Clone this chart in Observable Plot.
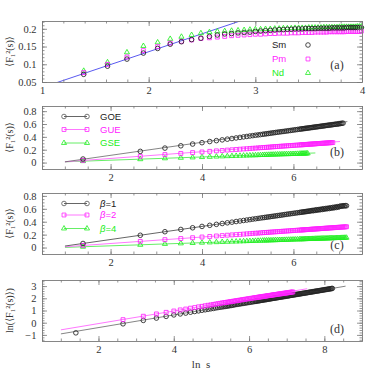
<!DOCTYPE html>
<html><head><meta charset="utf-8">
<script src="https://cdn.jsdelivr.net/npm/d3@7"></script>
<script src="https://cdn.jsdelivr.net/npm/@observablehq/plot@0.6"></script>
<style>
body{margin:0;background:#fff;}
#c{position:relative;width:382px;height:382px;overflow:hidden;background:#fff;}
#c svg{position:absolute;left:0;overflow:visible;}
#c svg text{font-family:'Liberation Serif','DejaVu Serif',serif;}
</style></head><body><div id="c"></div>
<script>
// ---------- panel (a): Sm, Pm, Nd versus ln s ----------
const sA = [4,5,6,7,8,9,10,11,12,13,14,15,16,17,18,19,20,21,22,23,24,25,26,27,28,29,30,31,32,33,34,35,36,37,38,39,40,41,42,43,44,45,46,47,48,49,50,51,52,53,54];
const smA = [0.073,0.096,0.116,0.133,0.146,0.158,0.165,0.171,0.175,0.180,0.184,0.187,0.188,0.190,0.191,0.192,0.194,0.195,0.196,0.197,0.198,0.199,0.199,0.200,0.200,0.201,0.201,0.201,0.202,0.202,0.202,0.202,0.203,0.203,0.203,0.203,0.203,0.204,0.204,0.204,0.204,0.204,0.204,0.205,0.205,0.205,0.205,0.205,0.205,0.205,0.205];
const pmA = [0.078,0.101,0.122,0.140,0.151,0.161,0.166,0.170,0.174,0.176,0.178,0.180,0.182,0.183,0.184,0.185,0.186,0.186,0.187,0.188,0.188,0.189,0.189,0.189,0.190,0.190,0.190,0.191,0.191,0.191,0.191,0.192,0.192,0.192,0.192,0.192,0.193,0.193,0.193,0.193,0.193,0.193,0.193,0.194,0.194,0.194,0.194,0.194,0.194,0.194,0.195];
const ndA = [0.083,0.107,0.135,0.153,0.163,0.173,0.179,0.184,0.189,0.192,0.194,0.195,0.196,0.197,0.198,0.199,0.200,0.200,0.201,0.201,0.202,0.202,0.203,0.203,0.203,0.204,0.204,0.204,0.204,0.205,0.205,0.205,0.205,0.205,0.206,0.206,0.206,0.206,0.206,0.206,0.207,0.207,0.207,0.207,0.207,0.207,0.207,0.207,0.208,0.208,0.208];
const fitAx = [1.10, 2.90];
const fitAy = [0.0463, 0.2282];

// ---------- panels (b)-(d): ln s grid ----------
const lnS = [1.386,2.639,3.178,3.526,3.784,3.989,4.159,4.304,4.431,4.543,4.644,4.736,4.820,4.898,4.970,5.037,5.100,5.159,5.215,5.268,5.318,
5.36,5.40,5.44,5.48,5.52,5.56,5.60,5.64,5.68,5.72,5.76,5.80,5.84,5.88,5.92,5.96,6.00,6.04,6.08,6.12,
6.150,6.175,6.200,6.225,6.250,6.275,6.300,6.325,6.350,6.375,6.400,6.425,6.450,6.475,6.500,6.525,6.550,6.575,6.600,6.625,6.650,6.675,6.700,6.725,6.750,6.775,6.800,6.825,6.850,6.875,6.900,6.925,6.950,6.975,7.000,7.025,7.050,7.075,7.100,7.125,7.150,7.175,7.200,7.225,7.250,7.275,7.300,7.325,7.350,7.375,7.400,7.425,7.450,7.475,7.500,7.525,7.550,7.575,7.600,7.625,7.650,7.675,7.700,7.725,7.750,7.775,7.800,7.825,7.850,7.875,7.900,7.925,7.950,7.975,8.000,8.025,8.050,8.075,8.100,8.125,8.150,8.175,8.200];

// (b) GOE, GUE, GSE
const bGOE = [0.063,0.182,0.233,0.269,0.296,0.317,0.335,0.349,0.361,0.372,0.382,0.391,0.399,0.407,0.414,0.421,0.427,0.433,0.438,0.443,0.448,
0.452,0.456,0.460,0.464,0.468,0.472,0.476,0.480,0.484,0.488,0.491,0.495,0.499,0.503,0.507,0.511,0.515,0.519,0.523,0.527,
0.530,0.532,0.535,0.537,0.540,0.542,0.544,0.547,0.549,0.552,0.554,0.557,0.559,0.562,0.564,0.566,0.569,0.571,0.574,0.576,0.579,0.581,0.584,0.586,0.589,0.591,0.593,0.596,0.598,0.601,0.603,0.607,0.605,0.612,0.613,0.616,0.619,0.621];
const bGUE = [0.041,0.105,0.132,0.150,0.163,0.173,0.182,0.190,0.196,0.202,0.207,0.212,0.216,0.220,0.223,0.227,0.230,0.233,0.236,0.239,0.241,
0.243,0.245,0.247,0.249,0.252,0.254,0.256,0.258,0.260,0.262,0.264,0.266,0.268,0.270,0.272,0.274,0.276,0.278,0.280,0.282,
0.284,0.285,0.286,0.287,0.289,0.290,0.291,0.293,0.294,0.295,0.296,0.298,0.299,0.300,0.302,0.303,0.304,0.305,0.307,0.308,0.309,0.310,0.312,0.313,0.314,0.316,0.317,0.318,0.319];
const bGSE = [0.030,0.060,0.074,0.082,0.088,0.093,0.097,0.101,0.104,0.107,0.109,0.112,0.114,0.116,0.117,0.119,0.120,0.122,0.123,0.125,0.126,
0.127,0.128,0.129,0.130,0.131,0.132,0.133,0.134,0.135,0.136,0.137,0.138,0.139,0.139,0.140,0.141,0.142,0.143,0.144,0.145,
0.146,0.147,0.147,0.148,0.148,0.149,0.150];
const fitBx = {GOE:[1, 7.16], GUE:[1, 7.0], GSE:[1, 6.46]};
const fitBy = {GOE:[0.02, 0.645], GUE:[0.02, 0.335], GSE:[0.02, 0.157]};

// (c) beta = 1, 2, 4
const cB1 = [0.071,0.198,0.253,0.288,0.314,0.335,0.352,0.367,0.380,0.391,0.401,0.411,0.419,0.427,0.434,0.441,0.448,0.454,0.459,0.465,0.470,
0.474,0.478,0.482,0.486,0.490,0.494,0.498,0.502,0.506,0.510,0.514,0.519,0.523,0.527,0.531,0.535,0.539,0.543,0.547,0.551,
0.554,0.557,0.559,0.562,0.564,0.567,0.569,0.572,0.574,0.577,0.583,0.578,0.588,0.584,0.594,0.588,0.598,0.593,0.604,0.598,0.609,0.603,0.614,0.608,0.619,0.612,0.624,0.618,0.630,0.622,0.636,0.628,0.641,0.634,0.646,0.650,0.648,0.656,0.652,0.657,0.655];
const cB2 = [0.040,0.103,0.130,0.147,0.160,0.171,0.179,0.187,0.193,0.199,0.204,0.208,0.212,0.216,0.220,0.223,0.227,0.230,0.232,0.235,0.238,
0.240,0.242,0.244,0.246,0.248,0.250,0.252,0.254,0.256,0.258,0.260,0.262,0.264,0.266,0.268,0.270,0.272,0.274,0.276,0.278,
0.279,0.281,0.282,0.283,0.284,0.286,0.287,0.288,0.289,0.291,0.292,0.293,0.294,0.296,0.297,0.298,0.299,0.301,0.302,0.303,0.305,0.306,0.307,0.308,0.310,0.311,0.312,0.313,0.315,0.316,0.317,0.318,0.320,0.321,0.322,0.323,0.325,0.326,0.327,0.328,0.330];
const cB4 = [0.020,0.050,0.064,0.072,0.078,0.083,0.087,0.091,0.094,0.097,0.099,0.101,0.103,0.105,0.107,0.109,0.110,0.112,0.113,0.114,0.116,
0.116,0.117,0.118,0.119,0.120,0.121,0.122,0.123,0.124,0.125,0.126,0.127,0.128,0.129,0.130,0.131,0.132,0.133,0.134,0.135,
0.136,0.136,0.137,0.138,0.138,0.139,0.139,0.140,0.141,0.141,0.142,0.142,0.143,0.144,0.144,0.145,0.145,0.146,0.147,0.147,0.148,0.148,0.149,0.150,0.150,0.151,0.152,0.152,0.153,0.153,0.154,0.155,0.155,0.156,0.156,0.157,0.158,0.158,0.159,0.159,0.160];
const cStartX = 1;
const cStartY = {b1: 0.032, b2: 0.02, b4: 0.01};

// (d) ln<F^2>
const dGOE = [-0.79,-0.05,0.23,0.42,0.56,0.68,0.76,0.83,0.90,0.96,1.01,1.06,1.10,1.14,1.18,1.21,1.25,1.28,1.31,1.33,1.36,
1.38,1.40,1.42,1.44,1.46,1.48,1.51,1.53,1.55,1.57,1.59,1.61,1.63,1.65,1.67,1.69,1.71,1.73,1.75,1.77,
1.79,1.80,1.82,1.83,1.84,1.85,1.87,1.88,1.89,1.91,1.92,1.93,1.94,1.96,1.97,1.98,2.00,2.01,2.02,2.04,2.05,2.06,2.07,2.09,2.10,2.11,2.13,2.14,2.15,2.16,2.18,2.19,2.20,2.22,2.23,2.24,2.25,2.27,2.28,2.29,2.31,2.32,2.33,2.35,2.36,2.37,2.38,2.40,2.41,2.42,2.44,2.45,2.46,2.47,2.49,2.50,2.51,2.53,2.54,2.55,2.56,2.58,2.59,2.60,2.62,2.63,2.64,2.65,2.67,2.68,2.69,2.71,2.72,2.73,2.75,2.76,2.77,2.78,2.80,2.81,2.82,2.84,2.85];
const dGUE = [null,0.29,0.57,0.76,0.89,1.00,1.09,1.16,1.23,1.28,1.34,1.38,1.43,1.47,1.50,1.54,1.57,1.60,1.63,1.66,1.68,
1.70,1.72,1.74,1.76,1.78,1.80,1.82,1.84,1.86,1.88,1.90,1.92,1.94,1.96,1.98,2.00,2.02,2.04,2.06,2.08,
2.09,2.10,2.11,2.13,2.14,2.15,2.16,2.17,2.19,2.20,2.21,2.22,2.23,2.25,2.26,2.27,2.28,2.29,2.31,2.32,2.33,2.34,2.35,2.36,2.38,2.39,2.40,2.41,2.42,2.43,2.45,2.46,2.47,2.48,2.49,2.50,2.52,2.53,2.54,2.55,2.56];
const fitDx = {GOE:[1, 8.54], GUE:[1, 7.52]};
const fitDy = {GOE:[-0.87, 3.03], GUE:[-0.54, 2.82]};

// tick labels
const ticksAx = [1,2,3,4], ticksAy = [0.05,0.1,0.15,0.2];
const ticksBx = [2,4,6], ticksBy = [0,0.2,0.4,0.6,0.8];
const ticksDx = [2,4,6,8], ticksDy = [-1,0,1,2,3];

// ---------- helpers ----------
const W = 382, ML = 42, MR = 20;
const SERIF = "'Liberation Serif','DejaVu Serif',serif";
const SANS = "'Liberation Sans','DejaVu Sans',sans-serif";
const INK = "#333", FRAME = "#7a7a7a";
const BLK = "#222", MAG = "#ff22ff", GRN = "#22ee22";
const BLKL = "#666", MAGL = "#ff77ff", GRNL = "#66ee66";

const ptsS = (s, ys) => ys.map((y, i) => ({x: Math.log(s[i]), y})).filter(d => d.y != null);
const ptsX = (xs, ys) => ys.map((y, i) => ({x: xs[i], y})).filter(d => d.y != null);
const seg = (xs, ys) => xs.map((x, i) => ({x, y: ys[i]}));
const fmt = d => d < 0 ? "\u2212" + (-d) : String(d);
const range = (a, b, st) => { const r = []; for (let v = a; v <= b + 1e-9; v += st) r.push(+v.toFixed(4)); return r; };

function tickMarks(xMaj, xMin, yMaj, yMin, ih, iw) {
  const L = 5, l = 2.5, o = {stroke: FRAME, strokeWidth: 0.8};
  return [
    Plot.tickX(xMaj, {x: d => d, insetTop: ih - L, ...o}),
    Plot.tickX(xMaj, {x: d => d, insetBottom: ih - L, ...o}),
    Plot.tickX(xMin, {x: d => d, insetTop: ih - l, ...o}),
    Plot.tickX(xMin, {x: d => d, insetBottom: ih - l, ...o}),
    Plot.tickY(yMaj, {y: d => d, insetRight: iw - L, ...o}),
    Plot.tickY(yMaj, {y: d => d, insetLeft: iw - L, ...o}),
    Plot.tickY(yMin, {y: d => d, insetRight: iw - l, ...o}),
    Plot.tickY(yMin, {y: d => d, insetLeft: iw - l, ...o})
  ];
}

function panel(p) {
  const ih = p.height - p.mt - p.mb, iw = W - ML - MR;
  const svg = Plot.plot({
    width: W, height: p.height, marginLeft: ML, marginRight: MR, marginTop: p.mt, marginBottom: p.mb,
    style: {background: "transparent", overflow: "visible"},
    x: {domain: p.xDomain}, y: {domain: p.yDomain},
    marks: [
      ...p.marks,
      Plot.frame({stroke: FRAME, strokeWidth: 0.9}),
      ...tickMarks(p.xMaj, p.xMin, p.yMaj, p.yMin, ih, iw),
      Plot.axisX(p.xMaj, {tickSize: 0, tickPadding: 4, tickFormat: fmt, label: null, fill: INK}),
      Plot.axisY(p.yMaj, {tickSize: 0, tickPadding: 6, tickFormat: fmt, label: null, fill: INK})
    ]
  });
  svg.setAttribute("font-family", SERIF);
  svg.setAttribute("font-size", "10.5");
  svg.style.top = p.top + "px";
  document.getElementById("c").appendChild(svg);
  const g = d3.select(svg);
  g.selectAll("text").style("font-family", SERIF).style("font-size", "10.5px");
  g.append("text").attr("transform", `translate(9,${p.mt + ih / 2}) rotate(-90)`)
    .attr("text-anchor", "middle").attr("dy", "0.35em")
    .style("font-family", SERIF).style("font-size", "10px").attr("fill", INK).text(p.ylabel);
  g.append("text").attr("x", p.tag[0]).attr("y", p.tag[1]).attr("text-anchor", "middle").attr("dy", "0.35em")
    .style("font-family", SERIF).style("font-size", "12px").attr("fill", INK).text(p.tag[2]);
  return g;
}

function symbolPath(sym, r) {
  const t = {circle: d3.symbolCircle, square: d3.symbolSquare, triangle: d3.symbolTriangle}[sym];
  return d3.symbol(t, Math.PI * r * r)();
}
function legend(g, items) {
  for (const it of items) {
    if (it.x2 != null) {
      g.append("line").attr("x1", it.x1).attr("x2", it.x2).attr("y1", it.y).attr("y2", it.y)
        .attr("stroke", it.lc).attr("stroke-width", 1);
      g.append("path").attr("d", symbolPath(it.sym, it.r)).attr("transform", `translate(${it.x2},${it.y})`)
        .attr("fill", "none").attr("stroke", it.c).attr("stroke-width", 0.8);
    }
    g.append("path").attr("d", symbolPath(it.sym, it.r)).attr("transform", `translate(${it.x1},${it.y})`)
      .attr("fill", "none").attr("stroke", it.c).attr("stroke-width", 0.8);
    const t = g.append("text").attr("x", it.tx).attr("y", it.y).attr("dy", "0.35em").attr("text-anchor", "start")
      .style("font-family", SANS).style("font-size", "9.5px").attr("fill", it.tc || it.c);
    if (it.beta) {
      t.append("tspan").style("font-style", "italic").text("\u03b2");
      t.append("tspan").text(it.label);
    } else t.text(it.label);
  }
}

const dotO = (sym, c, r) => ({x: "x", y: "y", symbol: sym, r, stroke: c, fill: "none", strokeWidth: 0.85});

// ---------- (a) ----------
const gA = panel({
  top: 0, height: 100, mt: 21, mb: 18,
  xDomain: [1, 4], yDomain: [0.05, 0.222],
  xMaj: ticksAx, xMin: range(1, 4, 0.2), yMaj: ticksAy, yMin: range(0.05, 0.22, 0.01),
  ylabel: "\u27e8F\u2081\u00b2(s)\u27e9", tag: [337, 65, "(a)"],
  marks: [
    Plot.line(seg(fitAx, fitAy), {x: "x", y: "y", stroke: "#5a5af0", strokeWidth: 1, clip: true}),
    Plot.dot(ptsS(sA, ndA), dotO("triangle", GRN, 1.9)),
    Plot.dot(ptsS(sA, pmA), dotO("square", MAG, 2.2)),
    Plot.dot(ptsS(sA, smA), dotO("circle", BLK, 2.3))
  ]
});
legend(gA, [
  {x1: 308, y: 45, sym: "circle", r: 2.3, c: "#222", tx: 272, label: "Sm"},
  {x1: 308, y: 59, sym: "square", r: 2.2, c: MAG, tx: 272, label: "Pm"},
  {x1: 308, y: 73, sym: "triangle", r: 1.9, c: GRN, tx: 272, label: "Nd"}
]);

// ---------- (b) ----------
const gB = panel({
  top: 100, height: 86, mt: 6, mb: 17,
  xDomain: [0.5, 7.5], yDomain: [-0.1, 0.88],
  xMaj: ticksBx, xMin: range(0.5, 7.5, 0.5), yMaj: ticksBy, yMin: range(-0.1, 0.85, 0.05),
  ylabel: "\u27e8F\u2081\u00b2(s)\u27e9", tag: [337, 52, "(b)"],
  marks: [
    Plot.line(seg(fitBx.GSE, fitBy.GSE), {x: "x", y: "y", stroke: GRNL, strokeWidth: 1}),
    Plot.line(seg(fitBx.GUE, fitBy.GUE), {x: "x", y: "y", stroke: MAGL, strokeWidth: 1}),
    Plot.line(seg(fitBx.GOE, fitBy.GOE), {x: "x", y: "y", stroke: BLKL, strokeWidth: 0.8}),
    Plot.dot(ptsX(lnS, bGSE), dotO("triangle", GRN, 1.9)),
    Plot.dot(ptsX(lnS, bGUE), dotO("square", MAG, 2.2)),
    Plot.dot(ptsX(lnS, bGOE), dotO("circle", BLK, 2.3))
  ]
});
legend(gB, [
  {x1: 64, x2: 87, y: 16.5, sym: "circle", r: 2.3, c: "#555", lc: BLKL, tc: "#222", tx: 100, label: "GOE"},
  {x1: 64, x2: 87, y: 29.5, sym: "square", r: 2.2, c: MAG, lc: MAGL, tx: 100, label: "GUE"},
  {x1: 64, x2: 87, y: 43, sym: "triangle", r: 1.9, c: GRN, lc: GRNL, tx: 100, label: "GSE"}
]);

// ---------- (c) ----------
const lineC = (ys, y0) => [{x: cStartX, y: y0}, ...ptsX(lnS, ys)];
const gC = panel({
  top: 186, height: 86, mt: 7, mb: 18,
  xDomain: [0.5, 7.5], yDomain: [-0.1, 0.845],
  xMaj: ticksBx, xMin: range(0.5, 7.5, 0.5), yMaj: ticksBy, yMin: range(-0.1, 0.8, 0.05),
  ylabel: "\u27e8F\u2081\u00b2(s)\u27e9", tag: [337, 59, "(c)"],
  marks: [
    Plot.line(lineC(cB4, cStartY.b4), {x: "x", y: "y", stroke: GRNL, strokeWidth: 1}),
    Plot.line(lineC(cB2, cStartY.b2), {x: "x", y: "y", stroke: MAGL, strokeWidth: 1}),
    Plot.line(lineC(cB1, cStartY.b1), {x: "x", y: "y", stroke: BLKL, strokeWidth: 1}),
    Plot.dot(ptsX(lnS, cB4), dotO("triangle", GRN, 1.9)),
    Plot.dot(ptsX(lnS, cB2), dotO("square", MAG, 2.2)),
    Plot.dot(ptsX(lnS, cB1), dotO("circle", BLK, 2.3))
  ]
});
legend(gC, [
  {x1: 64, x2: 87, y: 17.5, sym: "circle", r: 2.3, c: "#555", lc: BLKL, tc: "#222", tx: 100, label: "=1", beta: true},
  {x1: 64, x2: 87, y: 29, sym: "square", r: 2.2, c: MAG, lc: MAGL, tx: 100, label: "=2", beta: true},
  {x1: 64, x2: 87, y: 42.5, sym: "triangle", r: 1.9, c: GRN, lc: GRNL, tx: 100, label: "=4", beta: true}
]);

// ---------- (d) ----------
const gD = panel({
  top: 272, height: 110, mt: 8, mb: 41,
  xDomain: [0.5, 9], yDomain: [-1.5, 3.5],
  xMaj: ticksDx, xMin: range(0.5, 9, 0.5), yMaj: ticksDy, yMin: range(-1.4, 3.4, 0.2),
  ylabel: "ln(\u27e8F\u2081\u00b2(s)\u27e9)", tag: [337, 57, "(d)"],
  marks: [
    Plot.line(seg(fitDx.GUE, fitDy.GUE), {x: "x", y: "y", stroke: MAGL, strokeWidth: 1}),
    Plot.line(seg(fitDx.GOE, fitDy.GOE), {x: "x", y: "y", stroke: BLKL, strokeWidth: 0.8}),
    Plot.dot(ptsX(lnS, dGOE), dotO("circle", BLK, 2.3)),
    Plot.dot(ptsX(lnS, dGUE), dotO("square", MAG, 2.2))
  ]
});
gD.append("text").attr("x", 201).attr("y", 92).attr("text-anchor", "middle").attr("dy", "0.35em")
  .style("font-family", SERIF).style("font-size", "11px").attr("fill", INK).text("ln  s");
</script></body></html>
